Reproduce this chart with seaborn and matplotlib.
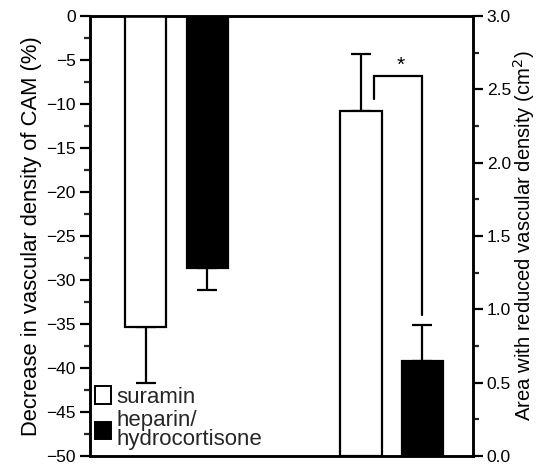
import matplotlib
matplotlib.use("Agg")
import matplotlib.pyplot as plt
import seaborn as sns
import pandas as pd
from matplotlib.patches import Patch
from matplotlib.ticker import MultipleLocator, FormatStrFormatter

# ---- data ----
treatments = ["suramin", "heparin"]
legend_labels = ["suramin", "heparin/\nhydrocortisone"]
decrease_pct = [-35.4, -28.6]          # left axis (%)
decrease_sem = [6.3, 2.6]
area_cm2 = [2.35, 0.65]                # right axis (cm^2)
area_sem = [0.39, 0.24]
star_label = "*"

# ---- layout (not data) ----
pos_left = [0.0, 1.0]
pos_right = [3.5, 4.5]
bar_colors = {"suramin": "white", "heparin": "black"}

sns.set_theme(style="white")
plt.rcParams["font.family"] = ["Liberation Sans", "DejaVu Sans"]
plt.rcParams["axes.unicode_minus"] = True

fig = plt.figure(figsize=(5.41, 4.66), dpi=100)
ax = fig.add_axes([0.166, 0.0215, 0.708, 0.9445])
ax2 = ax.twinx()

df_left = pd.DataFrame({"pos": pos_left, "val": decrease_pct, "trt": treatments})
df_right = pd.DataFrame({"pos": pos_right, "val": area_cm2, "trt": treatments})

lw = 1.6
sns.barplot(data=df_left, x="pos", y="val", hue="trt", palette=bar_colors,
            native_scale=True, dodge=False, width=0.67, edgecolor="black",
            linewidth=lw, legend=False, ax=ax, zorder=3)
sns.barplot(data=df_right, x="pos", y="val", hue="trt", palette=bar_colors,
            native_scale=True, dodge=False, width=0.67, edgecolor="black",
            linewidth=lw, legend=False, ax=ax2, zorder=3)

# one-sided error bars
ax.errorbar(pos_left, decrease_pct, yerr=[decrease_sem, [0, 0]], fmt="none",
            ecolor="black", elinewidth=lw, capsize=7.5, capthick=lw, zorder=2)
ax2.errorbar(pos_right, area_cm2, yerr=[[0, 0], area_sem], fmt="none",
             ecolor="black", elinewidth=lw, capsize=7.5, capthick=lw, zorder=2)

# significance bracket
bx_left = pos_right[0] + 0.21
bx_right = pos_right[1]
by_top = area_cm2[0] + area_sem[0] - 0.15
ax2.plot([bx_left, bx_left, bx_right, bx_right],
         [area_cm2[0] + 0.08, by_top, by_top, area_cm2[1] + area_sem[1] + 0.07],
         color="black", lw=lw, solid_joinstyle="miter", zorder=4)
ax2.text((bx_left + bx_right) / 2 + 0.04, by_top + 0.005, star_label,
         ha="center", va="bottom", fontsize=15, color="black")

# axes
ax.set_xlim(-0.91, 5.32)
ax.set_ylim(-50, 0)
ax2.set_ylim(0, 3.0)
ax.set_xticks([])
ax.set_xlabel("")
ax2.set_xlabel("")

ax.yaxis.set_major_locator(MultipleLocator(5))
ax.yaxis.set_minor_locator(MultipleLocator(2.5))
ax2.yaxis.set_major_locator(MultipleLocator(0.5))
ax2.yaxis.set_minor_locator(MultipleLocator(0.25))
ax2.yaxis.set_major_formatter(FormatStrFormatter("%.1f"))

for a in (ax, ax2):
    for s in a.spines.values():
        s.set_linewidth(1.8)
        s.set_color("black")
    a.tick_params(axis="y", which="major", length=7, width=1.6, labelsize=12.5,
                  colors="black", pad=3)
    a.tick_params(axis="y", which="minor", length=4, width=1.6)
ax.tick_params(axis="y", left=True, right=False, which="both", direction="out")
ax2.tick_params(axis="y", right=True, left=False, which="both", direction="out")

ax.set_ylabel("Decrease in vascular density of CAM (%)", fontsize=15.8,
              color="black", labelpad=3)
ax2.set_ylabel("Area with reduced vascular density (cm$^2$)", fontsize=14.6,
               color="black")
ax2.yaxis.set_label_coords(1.10, 0.5)

handles = [Patch(facecolor=bar_colors[t], edgecolor="black", linewidth=1.4)
           for t in treatments]
leg = ax.legend(handles, legend_labels, loc="lower left", frameon=False,
                fontsize=16, handlelength=0.7, handleheight=0.85,
                handletextpad=0.25, labelspacing=0.1, borderaxespad=0.2,
                borderpad=0.05)
for t in leg.get_texts():
    t.set_linespacing(0.9)

fig.savefig("out.png", dpi=100)
